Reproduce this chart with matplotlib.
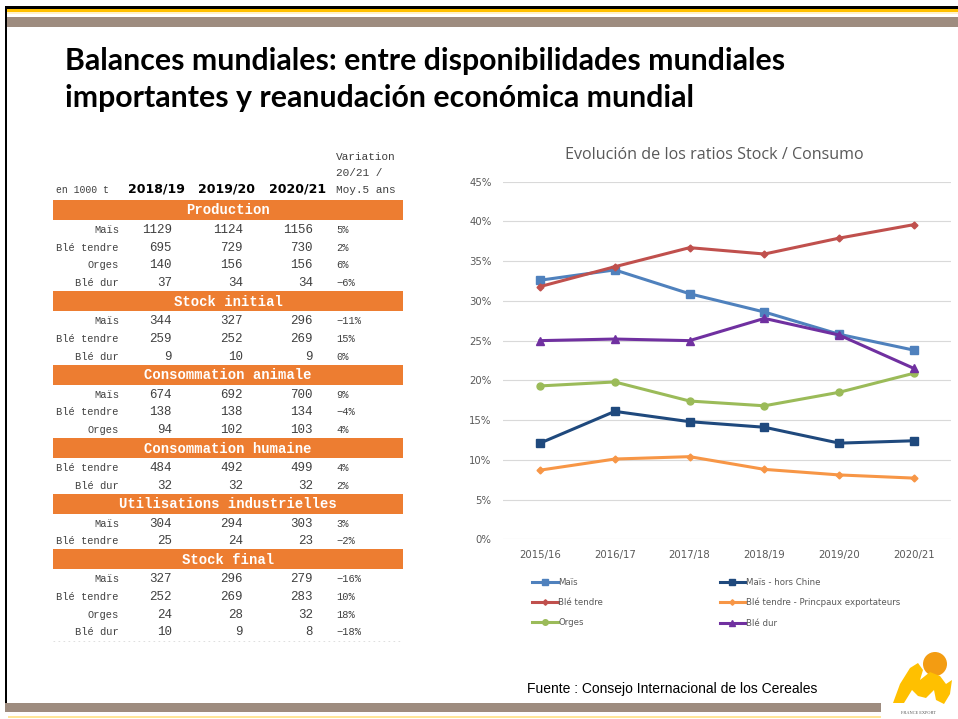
import matplotlib
matplotlib.use("Agg")
import matplotlib.pyplot as plt
from matplotlib.patches import Rectangle, Polygon, Circle

# ---------------- data ----------------
years_tab = ["2018/19", "2019/20", "2020/21"]
sections = ["Production", "Stock initial", "Consommation animale",
            "Consommation humaine", "Utilisations industrielles", "Stock final"]
prod_labels = ["Maïs", "Blé tendre", "Orges", "Blé dur"]
prod_vals = [[1129, 1124, 1156], [695, 729, 730], [140, 156, 156], [37, 34, 34]]
prod_var = ["5%", "2%", "6%", "-6%"]
stini_labels = ["Maïs", "Blé tendre", "Blé dur"]
stini_vals = [[344, 327, 296], [259, 252, 269], [9, 10, 9]]
stini_var = ["-11%", "15%", "0%"]
anim_labels = ["Maïs", "Blé tendre", "Orges"]
anim_vals = [[674, 692, 700], [138, 138, 134], [94, 102, 103]]
anim_var = ["9%", "-4%", "4%"]
hum_labels = ["Blé tendre", "Blé dur"]
hum_vals = [[484, 492, 499], [32, 32, 32]]
hum_var = ["4%", "2%"]
ind_labels = ["Maïs", "Blé tendre"]
ind_vals = [[304, 294, 303], [25, 24, 23]]
ind_var = ["3%", "-2%"]
stfin_labels = ["Maïs", "Blé tendre", "Orges", "Blé dur"]
stfin_vals = [[327, 296, 279], [252, 269, 283], [24, 28, 32], [10, 9, 8]]
stfin_var = ["-16%", "10%", "18%", "-18%"]

campaigns = ["2015/16", "2016/17", "2017/18", "2018/19", "2019/20", "2020/21"]
mais = [32.6, 33.9, 30.9, 28.6, 25.8, 23.8]
mais_hors_chine = [12.1, 16.1, 14.8, 14.1, 12.1, 12.4]
ble_tendre = [31.8, 34.3, 36.7, 35.9, 37.9, 39.6]
ble_tendre_export = [8.7, 10.1, 10.4, 8.8, 8.1, 7.7]
orges = [19.3, 19.8, 17.4, 16.8, 18.5, 20.9]
ble_dur = [25.0, 25.2, 25.0, 27.8, 25.7, 21.5]
yticks = [0, 5, 10, 15, 20, 25, 30, 35, 40, 45]

W, H = 958, 719
fig = plt.figure(figsize=(W / 100, H / 100), dpi=100)
bg = fig.add_axes([0, 0, 1, 1])
bg.set_xlim(0, W)
bg.set_ylim(H, 0)
bg.axis("off")

# ---------------- slide decorations ----------------
bg.add_patch(Rectangle((5, 6), W, 3, color="black", lw=0))
bg.add_patch(Rectangle((5, 9), W, 3, color="#FFC000", lw=0))
bg.add_patch(Rectangle((5, 12), W, 2, color="#FFF2CC", lw=0))
bg.add_patch(Rectangle((5, 17), W, 10, color="#9E8C7F", lw=0))
bg.add_patch(Rectangle((5, 6), 2.5, 700, color="black", lw=0))
bg.add_patch(Rectangle((5, 703), 876, 9, color="#9E8C7F", lw=0))
bg.add_patch(Rectangle((8, 716), 873, 2, color="#FFE699", lw=0))

title_lines = ["Balances mundiales: entre disponibilidades mundiales",
               "importantes y reanudación económica mundial"]
for yy, line in zip([70, 107], title_lines):
    bg.text(65, yy, line, fontsize=21.8, fontweight="bold", family="Lato",
            color="black", va="baseline", ha="left")

bg.text(527, 689, "Fuente : Consejo Internacional de los Cereales",
        fontsize=10, family="Liberation Sans", color="black", va="center")

# logo
bg.add_patch(Circle((935, 664), 12, color="#F39C12", lw=0))
bg.add_patch(Polygon([[893, 703], [900, 684], [910, 668], [918, 663], [923, 670],
                      [920, 680], [930, 672], [940, 676], [946, 684], [952, 680],
                      [950, 694], [944, 704], [936, 700], [934, 690], [926, 698],
                      [918, 696], [912, 690], [904, 703]],
                     closed=True, color="#FFC000", lw=0))
bg.text(918, 713, "FRANCE EXPORT", fontsize=3.2, color="#555555", ha="center", va="center",
        family="Liberation Serif")

# ---------------- table ----------------
orange = "#ED7D31"
tx0, tx1 = 53, 403
lab_x = 119
col_x = [172, 243, 313]
var_x = 336
mono = "Liberation Mono"
txtc = "#404040"

bg.text(56, 193, "en 1000 t", fontsize=7, family=mono, color=txtc, va="baseline")
for x, yr in zip([156, 227, 298], years_tab):
    bg.text(x, 193, yr, fontsize=9, fontweight="bold", family="DejaVu Sans",
            color="black", ha="center", va="baseline")
for yy, t in zip([160, 176, 193], ["Variation", "20/21 /", "Moy.5 ans"]):
    bg.text(var_x, yy, t, fontsize=8, family=mono, color=txtc, va="baseline")

blocks = [(prod_labels, prod_vals, prod_var), (stini_labels, stini_vals, stini_var),
          (anim_labels, anim_vals, anim_var), (hum_labels, hum_vals, hum_var),
          (ind_labels, ind_vals, ind_var), (stfin_labels, stfin_vals, stfin_var)]
bar_h = 20
row_h = 17.8
y = 200
for sec, (labs, vals, var) in zip(sections, blocks):
    bg.add_patch(Rectangle((tx0, y), tx1 - tx0, bar_h, color=orange, lw=0))
    bg.text((tx0 + tx1) / 2, y + bar_h / 2 + 0.5, sec, fontsize=10, fontweight="bold",
            family=mono, color="white", ha="center", va="center")
    y += bar_h
    for lab, v, vr in zip(labs, vals, var):
        cy = y + row_h / 2 + 1
        bg.text(lab_x, cy, lab, fontsize=7.5, family=mono, color=txtc, ha="right", va="center")
        for cx, val in zip(col_x, v):
            bg.text(cx, cy, f"{val}", fontsize=9, family=mono, color=txtc, ha="right", va="center")
        bg.text(var_x, cy, vr.replace("-", "\u2212"), fontsize=7.5, family=mono, color=txtc,
                ha="left", va="center")
        y += row_h
bg.plot([tx0, tx1], [y + 0.5, y + 0.5], color="#D9D9D9", lw=0.6, ls=(0, (2, 4)))

# ---------------- chart ----------------
left, right, top, bottom = 502.6, 951.4, 181.7, 539.3
ax = fig.add_axes([left / W, (H - bottom) / H, (right - left) / W, (bottom - top) / H])
ax.set_facecolor("none")
xs = list(range(len(campaigns)))
series = [
    (mais, "Maïs", "#4F81BD", "s", 6),
    (mais_hors_chine, "Maïs - hors Chine", "#1F497D", "s", 6),
    (ble_tendre, "Blé tendre", "#C0504D", "D", 3.5),
    (ble_tendre_export, "Blé tendre - Princpaux exportateurs", "#F79646", "D", 3.5),
    (orges, "Orges", "#9BBB59", "o", 5),
    (ble_dur, "Blé dur", "#7030A0", "^", 6),
]
handles = []
for vals, lab, col, mk, ms in series:
    h, = ax.plot(xs, vals, color=col, lw=2.2, marker=mk, ms=ms, label=lab)
    handles.append(h)
ax.set_xlim(-0.5, len(campaigns) - 0.5)
ax.set_ylim(0, 45)
ax.set_yticks(yticks)
ax.set_yticklabels([f"{t}%" for t in yticks])
ax.set_xticks(xs)
ax.set_xticklabels(campaigns)
ax.grid(axis="y", color="#D9D9D9", lw=0.8)
ax.set_axisbelow(True)
for s in ax.spines.values():
    s.set_visible(False)
ax.tick_params(length=0, labelsize=7.3, colors="#595959")
ax.tick_params(axis="y", pad=8)
ax.tick_params(axis="x", pad=8)

fig.text(714 / W, 1 - 155 / H, "Evolución de los ratios Stock / Consumo", fontsize=11.6,
         color="#595959", ha="center", va="center", family="Open Sans")

# legend: two columns, order row-wise
order = [0, 2, 4, 1, 3, 5]
leg = fig.legend([handles[i] for i in order], [series[i][1] for i in order],
                 ncol=2, loc="upper left", bbox_to_anchor=(524 / W, 1 - 570 / H),
                 frameon=False, fontsize=6.2, handlelength=3.0, handletextpad=0.1,
                 columnspacing=13.5, labelspacing=1.3, markerscale=0.8)
for t in leg.get_texts():
    t.set_color("#595959")

fig.savefig("out.png", dpi=100)
